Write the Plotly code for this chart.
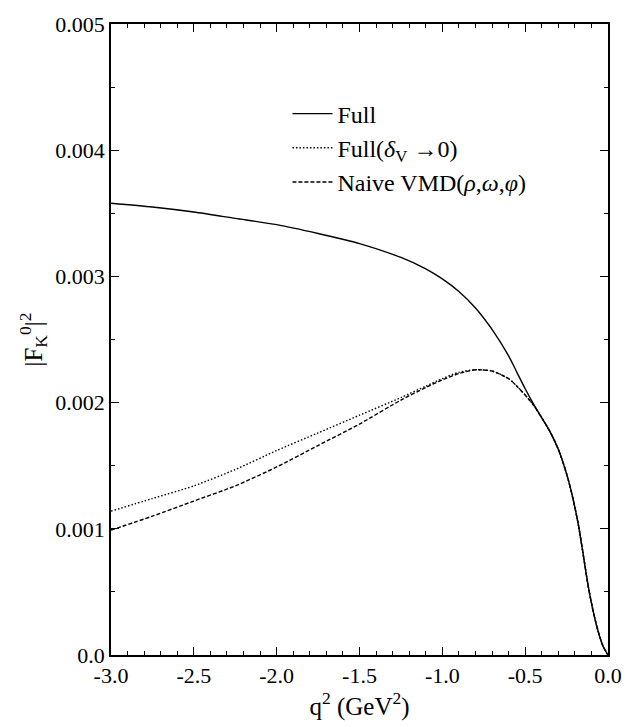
import plotly.graph_objects as go

q2 = [-3.0, -2.75, -2.5, -2.25, -2.0, -1.75, -1.5, -1.25, -1.1, -1.0, -0.9, -0.8,
      -0.7, -0.6, -0.55, -0.5, -0.45, -0.4, -0.35, -0.3, -0.27, -0.24, -0.21,
      -0.18, -0.15, -0.12, -0.09, -0.06, -0.03, 0.0]

tail = [0.00188, 0.00177, 0.00163, 0.00152, 0.00139, 0.00123, 0.00104,
        0.00080, 0.00055, 0.00035, 0.00019, 0.00007, 0.0]

full = [0.00358, 0.00355, 0.00351, 0.00346, 0.00341, 0.00334, 0.00326, 0.00315,
        0.00306, 0.00298, 0.00288, 0.00275, 0.00258, 0.00237, 0.00224, 0.00211,
        0.00199] + tail

full_delta0 = [0.00114, 0.00124, 0.00134, 0.00147, 0.00162, 0.00176, 0.00190,
               0.00204, 0.00213, 0.00219, 0.00224, 0.00226, 0.00225, 0.00219,
               0.00213, 0.00206, 0.00198] + tail

naive_vmd = [0.00099, 0.00110, 0.00122, 0.00134, 0.00149, 0.00166, 0.00183,
             0.00202, 0.00212, 0.00218, 0.00223, 0.00226, 0.00225, 0.00219,
             0.00213, 0.00206, 0.00198] + tail

names = ["Full", "Full(<i>δ</i><sub>V</sub> →0)", "Naive VMD(<i>ρ</i>,<i>ω</i>,<i>φ</i>)"]
series = [full, full_delta0, naive_vmd]
dashes = ["solid", "1.5px,2px", "4px,2px"]

fig = go.Figure()
for nm, ys, ds in zip(names, series, dashes):
    fig.add_trace(go.Scatter(x=q2, y=ys, mode="lines", name=nm,
                             line=dict(color="black", width=1.4, dash=ds, shape="spline", smoothing=0.7)))

font = "Liberation Serif, Times New Roman, serif"
axis_common = dict(showgrid=False, zeroline=False, showline=True, linecolor="black",
                   linewidth=1.5, mirror="allticks", ticks="inside", ticklen=8,
                   tickwidth=1.2, tickcolor="black",
                   tickfont=dict(family=font, size=22, color="black"))

fig.update_xaxes(range=[-3.0, 0.0], tickvals=[-3.0, -2.5, -2.0, -1.5, -1.0, -0.5, 0.0],
                 ticktext=["-3.0", "-2.5", "-2.0", "-1.5", "-1.0", "-0.5", "0.0"],
                 minor=dict(dtick=0.1, ticks="inside", ticklen=4, tickcolor="black", tickwidth=1),
                 title=dict(text="q<sup>2</sup> (GeV<sup>2</sup>)", font=dict(family=font, size=25, color="black"),
                            standoff=0),
                 **axis_common)
fig.update_yaxes(range=[0.0, 0.005], tickvals=[0.0, 0.001, 0.002, 0.003, 0.004, 0.005],
                 ticktext=["0.0", "0.001", "0.002", "0.003", "0.004", "0.005"],
                 minor=dict(dtick=0.0005, ticks="inside", ticklen=4, tickcolor="black", tickwidth=1),
                 title=dict(text="|F<sub>K</sub><sup>0</sup>|<sup>2</sup>", font=dict(family=font, size=25, color="black"),
                            standoff=6),
                 **axis_common)

fig.update_layout(
    width=634, height=727,
    margin=dict(l=111, r=15, t=12, b=72),
    paper_bgcolor="white", plot_bgcolor="white",
    showlegend=True,
    legend=dict(x=0.355, y=0.893, xanchor="left", yanchor="top",
                font=dict(family=font, size=24, color="black"),
                bgcolor="rgba(0,0,0,0)", tracegroupgap=0, itemwidth=40),
)

fig.write_html("out.html")
